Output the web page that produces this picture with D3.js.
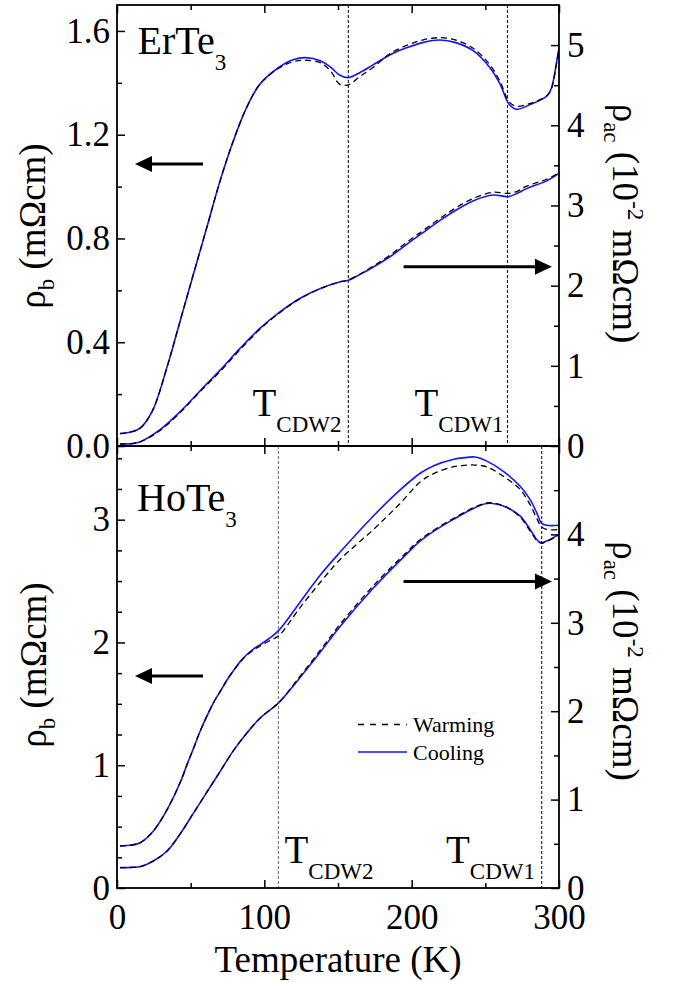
<!DOCTYPE html>
<html>
<head>
<meta charset="utf-8">
<script src="https://cdn.jsdelivr.net/npm/d3@7"></script>
<style>
  html, body { margin: 0; padding: 0; background: #fff; }
  svg { display: block; font-family: 'Liberation Serif', 'Times New Roman', serif; }
</style>
</head>
<body>
<svg id="chart" width="673" height="982"></svg>
<script>
// ---- ErTe3: rho_b (mOhm cm, left axis) ----
const erRhoBTemp = [2, 10, 16, 24, 34, 43, 52, 61, 70, 79, 88, 97, 110, 120, 128, 138, 145, 151, 157, 165, 174, 186, 197, 208, 219, 230, 242, 253, 260, 266, 271, 280, 292, 295, 298.5, 300];
const erRhoBCooling = [0.048, 0.055, 0.07, 0.135, 0.305, 0.485, 0.665, 0.843, 1.023, 1.177, 1.305, 1.395, 1.46, 1.49, 1.497, 1.485, 1.46, 1.43, 1.42, 1.44, 1.47, 1.51, 1.536, 1.556, 1.565, 1.555, 1.523, 1.459, 1.395, 1.318, 1.298, 1.315, 1.35, 1.382, 1.485, 1.536];
const erRhoBWarming = [0.048, 0.055, 0.07, 0.135, 0.305, 0.485, 0.665, 0.843, 1.023, 1.177, 1.305, 1.395, 1.457, 1.482, 1.487, 1.478, 1.445, 1.395, 1.392, 1.425, 1.46, 1.515, 1.545, 1.566, 1.574, 1.565, 1.532, 1.47, 1.405, 1.328, 1.31, 1.32, 1.352, 1.38, 1.48, 1.536];

// ---- ErTe3: rho_ac (10^-2 mOhm cm, right axis) ----
const erRhoAcTemp = [2, 10, 16, 29, 43, 56, 70, 83.5, 97, 110.6, 124, 138, 151, 157, 165, 174, 186, 197, 208, 219, 230, 242, 255.5, 265.6, 272, 278, 292, 300];
const erRhoAcCooling = [0.025, 0.03, 0.054, 0.2, 0.43, 0.68, 0.946, 1.217, 1.466, 1.672, 1.84, 1.964, 2.046, 2.067, 2.14, 2.233, 2.37, 2.52, 2.665, 2.81, 2.94, 3.06, 3.13, 3.11, 3.155, 3.21, 3.31, 3.40];
const erRhoAcWarming = [0.025, 0.03, 0.054, 0.19, 0.42, 0.67, 0.93, 1.2, 1.455, 1.665, 1.835, 1.962, 2.046, 2.07, 2.145, 2.245, 2.39, 2.545, 2.69, 2.835, 2.97, 3.09, 3.165, 3.15, 3.18, 3.24, 3.33, 3.41];

// ---- HoTe3: rho_b (mOhm cm, left axis) ----
const hoRhoBTemp = [2, 10, 16, 25, 34, 43, 48, 52, 56, 61, 66, 70, 75, 79, 84, 88, 93, 97, 103, 110, 124, 138, 151, 174, 192, 206, 215, 228, 236, 243, 251, 262, 273.5, 280.3, 284.9, 288.3, 291.7, 300];
const hoRhoBCooling = [0.343, 0.35, 0.371, 0.469, 0.638, 0.863, 1.02, 1.14, 1.265, 1.40, 1.52, 1.60, 1.70, 1.77, 1.85, 1.90, 1.95, 1.98, 2.03, 2.10, 2.324, 2.549, 2.73, 3.03, 3.24, 3.38, 3.44, 3.49, 3.505, 3.51, 3.477, 3.396, 3.274, 3.165, 3.056, 2.97, 2.954, 2.954];
const hoRhoBWarming = [0.343, 0.35, 0.371, 0.469, 0.638, 0.863, 1.02, 1.14, 1.265, 1.40, 1.52, 1.60, 1.70, 1.77, 1.845, 1.895, 1.94, 1.97, 2.01, 2.057, 2.28, 2.49, 2.67, 2.92, 3.13, 3.31, 3.375, 3.43, 3.443, 3.445, 3.43, 3.355, 3.247, 3.124, 3.01, 2.94, 2.92, 2.92];

// ---- HoTe3: rho_ac (10^-2 mOhm cm, right axis) ----
const hoRhoAcTemp = [2, 10, 16, 25, 34, 43, 52, 61, 70, 79, 88, 97, 110, 124, 138, 151, 174, 197, 205.7, 228.3, 251, 262.2, 273.5, 280.3, 285.8, 288.3, 291.7, 300];
const hoRhoAcCooling = [0.231, 0.233, 0.243, 0.309, 0.419, 0.615, 0.85, 1.084, 1.319, 1.554, 1.75, 1.92, 2.10, 2.376, 2.669, 2.95, 3.393, 3.785, 3.925, 4.17, 4.35, 4.32, 4.21, 4.058, 3.925, 3.906, 3.925, 4.0];
const hoRhoAcWarming = [0.231, 0.233, 0.243, 0.309, 0.419, 0.615, 0.85, 1.084, 1.319, 1.554, 1.75, 1.92, 2.10, 2.39, 2.69, 2.975, 3.42, 3.805, 3.94, 4.18, 4.355, 4.325, 4.2, 4.04, 3.915, 3.9, 3.92, 3.99];

// ---- transition temperatures (K) ----
const erTcdw = { cdw2: 157, cdw1: 265 };
const hoTcdw = { cdw2: 109.5, cdw1: 288.3 };

// ---- axis ticks ----
const tempMajorTicks = [0, 100, 200, 300];
const tempMinorTicks = [50, 150, 250];
const erLeftMajor = [0, 0.4, 0.8, 1.2, 1.6];
const erLeftMinor = [0.2, 0.6, 1.0, 1.4];
const erRightMajor = [0, 1, 2, 3, 4, 5];
const erRightMinor = [0.5, 1.5, 2.5, 3.5, 4.5];
const hoLeftMajor = [0, 1, 2, 3];
const hoLeftMinor = [0.25, 0.5, 0.75, 1.25, 1.5, 1.75, 2.25, 2.5, 2.75, 3.25, 3.5];
const hoRightMajor = [0, 1, 2, 3, 4];
const hoRightMinor = [0.5, 1.5, 2.5, 3.5, 4.5];

const svg = d3.select("#chart");
const FONT = "'Liberation Serif', 'Times New Roman', serif";

const left = 117, right = 559;
const x = d3.scaleLinear().domain([0, 300]).range([left, right]);

const panels = [
  {
    name: "er", top: 5, bottom: 446,
    yL: d3.scaleLinear().domain([0, 1.7]),
    yR: d3.scaleLinear().domain([0, 5.5]),
    leftMajor: erLeftMajor, leftMinor: erLeftMinor, leftFmt: d3.format(".1f"),
    rightMajor: erRightMajor, rightMinor: erRightMinor,
    showX: false
  },
  {
    name: "ho", top: 446, bottom: 888,
    yL: d3.scaleLinear().domain([0, 3.6]),
    yR: d3.scaleLinear().domain([0, 5]),
    leftMajor: hoLeftMajor, leftMinor: hoLeftMinor, leftFmt: d3.format("d"),
    rightMajor: hoRightMajor, rightMinor: hoRightMinor,
    showX: true
  }
];
panels.forEach(p => { p.yL.range([p.bottom, p.top]); p.yR.range([p.bottom, p.top]); });

function styleAxis(g, size) {
  g.attr("font-family", FONT).attr("font-size", size);
  g.select(".domain").remove();
  g.selectAll(".tick line").attr("stroke", "#000").attr("stroke-width", 1.5);
  g.selectAll(".tick text").attr("fill", "#000");
}

function drawAxes(p) {
  const MAJ = -8, MIN = -5, TS = 35;
  const none = () => "";
  // bottom
  svg.append("g").attr("transform", `translate(0,${p.bottom})`)
    .call(d3.axisBottom(x).tickValues(tempMajorTicks).tickSizeInner(MAJ).tickSizeOuter(0)
      .tickPadding(16).tickFormat(p.showX ? d3.format("d") : none))
    .call(g => styleAxis(g, TS));
  svg.append("g").attr("transform", `translate(0,${p.bottom})`)
    .call(d3.axisBottom(x).tickValues(tempMinorTicks).tickSizeInner(MIN).tickSizeOuter(0).tickFormat(none))
    .call(g => styleAxis(g, TS));
  // top
  svg.append("g").attr("transform", `translate(0,${p.top})`)
    .call(d3.axisTop(x).tickValues(tempMajorTicks).tickSizeInner(MAJ).tickSizeOuter(0).tickFormat(none))
    .call(g => styleAxis(g, TS));
  svg.append("g").attr("transform", `translate(0,${p.top})`)
    .call(d3.axisTop(x).tickValues(tempMinorTicks).tickSizeInner(MIN).tickSizeOuter(0).tickFormat(none))
    .call(g => styleAxis(g, TS));
  // left
  svg.append("g").attr("transform", `translate(${left},0)`)
    .call(d3.axisLeft(p.yL).tickValues(p.leftMajor).tickSizeInner(MAJ).tickSizeOuter(0)
      .tickPadding(7).tickFormat(p.leftFmt))
    .call(g => styleAxis(g, TS));
  svg.append("g").attr("transform", `translate(${left},0)`)
    .call(d3.axisLeft(p.yL).tickValues(p.leftMinor).tickSizeInner(MIN).tickSizeOuter(0).tickFormat(none))
    .call(g => styleAxis(g, TS));
  // right
  svg.append("g").attr("transform", `translate(${right},0)`)
    .call(d3.axisRight(p.yR).tickValues(p.rightMajor).tickSizeInner(MAJ).tickSizeOuter(0)
      .tickPadding(8).tickFormat(d3.format("d")))
    .call(g => styleAxis(g, TS));
  svg.append("g").attr("transform", `translate(${right},0)`)
    .call(d3.axisRight(p.yR).tickValues(p.rightMinor).tickSizeInner(MIN).tickSizeOuter(0).tickFormat(none))
    .call(g => styleAxis(g, TS));
}

function zipSeries(t, v) { return t.map((d, i) => [d, v[i]]); }

function drawCurves(p, temps, cooling, warming, scale) {
  const line = d3.line().x(d => x(d[0])).y(d => scale(d[1])).curve(d3.curveCatmullRom.alpha(0.5));
  const g = svg.append("g").attr("clip-path", `url(#clip-${p.name})`);
  g.append("path").datum(zipSeries(temps, cooling))
    .attr("d", line).attr("fill", "none").attr("stroke", "#1414ff").attr("stroke-width", 1.6);
  g.append("path").datum(zipSeries(temps, warming))
    .attr("d", line).attr("fill", "none").attr("stroke", "#000").attr("stroke-width", 1.3)
    .attr("stroke-dasharray", "6,4");
}

function drawTransition(p, t, color) {
  svg.append("line")
    .attr("x1", x(t)).attr("x2", x(t)).attr("y1", p.top).attr("y2", p.bottom)
    .attr("stroke", color).attr("stroke-width", 1).attr("stroke-dasharray", "3,2");
}

function tLabel(px, baseline, sub) {
  const t = svg.append("text").attr("x", px).attr("y", baseline)
    .attr("font-family", FONT).attr("font-size", 39).attr("fill", "#000");
  t.append("tspan").text("T");
  t.append("tspan").attr("font-size", 23).attr("dy", 15.5).text(sub);
}

function arrow(x1, x2, y) {
  // shaft from x1 to tip x2, filled triangular head
  const dir = Math.sign(x2 - x1), headLen = 17, headHalf = 8;
  svg.append("line").attr("x1", x1).attr("x2", x2 - dir * headLen * 0.8).attr("y1", y).attr("y2", y)
    .attr("stroke", "#000").attr("stroke-width", 3);
  svg.append("path")
    .attr("d", `M${x2},${y} L${x2 - dir * headLen},${y - headHalf} L${x2 - dir * headLen},${y + headHalf} Z`)
    .attr("fill", "#000");
}

// clip regions
const defs = svg.append("defs");
panels.forEach(p => {
  defs.append("clipPath").attr("id", `clip-${p.name}`)
    .append("rect").attr("x", left).attr("y", p.top).attr("width", right - left).attr("height", p.bottom - p.top);
});

const [er, ho] = panels;

// transition markers
drawTransition(er, erTcdw.cdw2, "#000");
drawTransition(er, erTcdw.cdw1, "#000");
drawTransition(ho, hoTcdw.cdw2, "#666");
drawTransition(ho, hoTcdw.cdw1, "#000");

// data curves
drawCurves(er, erRhoBTemp, erRhoBCooling, erRhoBWarming, er.yL);
drawCurves(er, erRhoAcTemp, erRhoAcCooling, erRhoAcWarming, er.yR);
drawCurves(ho, hoRhoBTemp, hoRhoBCooling, hoRhoBWarming, ho.yL);
drawCurves(ho, hoRhoAcTemp, hoRhoAcCooling, hoRhoAcWarming, ho.yR);

// frames and axes
panels.forEach(p => {
  drawAxes(p);
  svg.append("rect").attr("x", left).attr("y", p.top).attr("width", right - left).attr("height", p.bottom - p.top)
    .attr("fill", "none").attr("stroke", "#000").attr("stroke-width", 1.8);
});

// axis arrows (which curve belongs to which axis)
arrow(x(58.4), x(12.2), er.yL(1.087));
arrow(x(194.5), x(295.2), er.yR(2.236));
arrow(x(58.4), x(12.2), ho.yL(1.726));
arrow(x(194.5), x(295.2), ho.yR(3.466));

// transition labels
tLabel(252.5, 416, "CDW2");
tLabel(414.5, 416, "CDW1");
tLabel(284.5, 863, "CDW2");
tLabel(446, 863, "CDW1");

// compound labels
function compound(px, baseline, base, sub) {
  const t = svg.append("text").attr("x", px).attr("y", baseline)
    .attr("font-family", FONT).attr("font-size", 40).attr("fill", "#000");
  t.append("tspan").text(base);
  t.append("tspan").attr("font-size", 23).attr("dy", 16).text(sub);
}
compound(137.5, 53.5, "ErTe", "3");
compound(137, 511, "HoTe", "3");

// left axis titles: rho_b (mOhm cm)
function leftTitle(cx, cy) {
  const t = svg.append("text").attr("transform", `translate(${cx},${cy}) rotate(-90)`)
    .attr("text-anchor", "middle").attr("font-family", FONT).attr("font-size", 37).attr("fill", "#000");
  t.append("tspan").text("ρ");
  t.append("tspan").attr("font-size", 23).attr("dy", 9).text("b");
  t.append("tspan").attr("dy", -9).text(" (mΩcm)");
}
leftTitle(45, 226);
leftTitle(46, 665);

// right axis titles: rho_ac (10^-2 mOhm cm)
function rightTitle(cx, cy) {
  const t = svg.append("text").attr("transform", `translate(${cx},${cy}) rotate(90)`)
    .attr("text-anchor", "middle").attr("font-family", FONT).attr("font-size", 37).attr("fill", "#000");
  t.append("tspan").text("ρ");
  t.append("tspan").attr("font-size", 23).attr("dy", 9).text("ac");
  t.append("tspan").attr("dy", -9).text(" (10");
  t.append("tspan").attr("font-size", 23).attr("dy", -15).text("-2");
  t.append("tspan").attr("dy", 15).text(" mΩcm)");
}
rightTitle(613, 223.5);
rightTitle(613, 661);

// x axis title
svg.append("text").attr("x", (left + right) / 2).attr("y", 971.5).attr("text-anchor", "middle")
  .attr("font-family", FONT).attr("font-size", 37).attr("fill", "#000").text("Temperature (K)");

// legend
const legend = svg.append("g").attr("font-family", FONT).attr("font-size", 22);
legend.append("line").attr("x1", 358).attr("x2", 407).attr("y1", 724.5).attr("y2", 724.5)
  .attr("stroke", "#000").attr("stroke-width", 1.3).attr("stroke-dasharray", "6,6");
legend.append("text").attr("x", 413).attr("y", 731.5).text("Warming");
legend.append("line").attr("x1", 358).attr("x2", 407).attr("y1", 752).attr("y2", 752)
  .attr("stroke", "#1414ff").attr("stroke-width", 1.6);
legend.append("text").attr("x", 413).attr("y", 759.5).text("Cooling");
</script>
</body>
</html>
